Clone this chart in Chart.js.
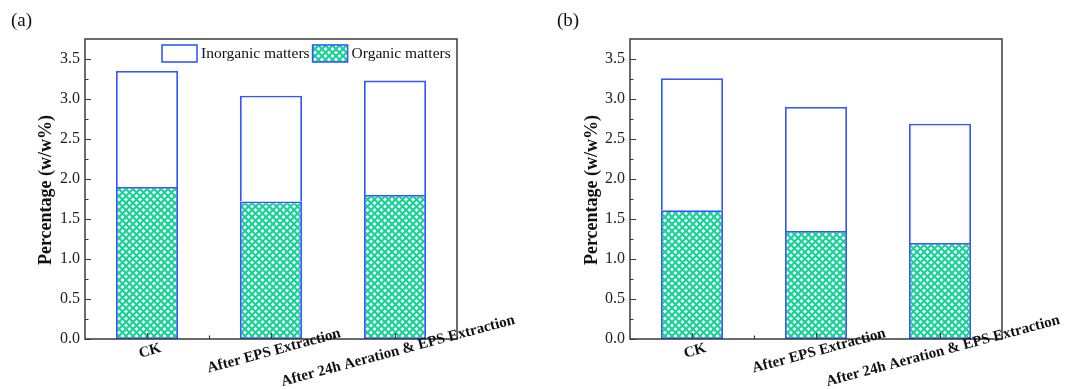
<!DOCTYPE html>
<html>
<head>
<meta charset="utf-8">
<script src="https://cdn.jsdelivr.net/npm/chart.js@4.4.1/dist/chart.umd.min.js"></script>
<style>
  html, body { margin: 0; padding: 0; background: #fff; }
  .wrap { position: absolute; top: 0; height: 389px; }
  #wrapA { left: 0; width: 532px; }
  #wrapB { left: 532px; width: 533px; }
</style>
</head>
<body>
<div class="wrap" id="wrapA"><canvas id="chartA"></canvas></div>
<div class="wrap" id="wrapB"><canvas id="chartB"></canvas></div>
<script>
const categories = ["CK", "After EPS Extraction", "After 24h Aeration & EPS Extraction"];
const yTicks = [0, 0.5, 1.0, 1.5, 2.0, 2.5, 3.0, 3.5];

// panel (a)
const organicA = [1.90, 1.72, 1.80];
const inorganicA = [1.45, 1.32, 1.43];
// panel (b)
const organicB = [1.61, 1.35, 1.20];
const inorganicB = [1.65, 1.55, 1.49];

const SERIF = "'Liberation Serif', 'Times New Roman', serif";
const BLUE = "#3458ff";
const GREEN = "#14d494";
const FRAME = "#3a3a3a";

function makeHatch() {
  const n = 7;
  const c = document.createElement("canvas");
  c.width = n;
  c.height = n;
  const g = c.getContext("2d");
  g.fillStyle = "#fff";
  g.fillRect(0, 0, n, n);
  g.strokeStyle = GREEN;
  g.lineWidth = 2.1;
  for (let k = -1; k <= 1; k++) {
    g.beginPath();
    g.moveTo(k * n, 0);
    g.lineTo(k * n + n, n);
    g.moveTo(k * n, n);
    g.lineTo(k * n + n, 0);
    g.stroke();
  }
  return g.createPattern(c, "repeat");
}
const hatch = makeHatch();

// frame, inward ticks, rotated category labels, y title, panel tag, legend
const decorations = {
  id: "decorations",
  afterDraw(chart, args, opts) {
    const ctx = chart.ctx;
    const a = chart.chartArea;
    const x = chart.scales.x;
    const y = chart.scales.y;
    ctx.save();

    // ticks
    ctx.strokeStyle = FRAME;
    ctx.lineWidth = 1.2;
    ctx.beginPath();
    yTicks.forEach(v => {
      const py = Math.round(y.getPixelForValue(v)) + 0.5;
      ctx.moveTo(a.left, py);
      ctx.lineTo(a.left + 6, py);
      const pm = Math.round(y.getPixelForValue(v + 0.25)) + 0.5;
      if (v + 0.25 < 3.75) {
        ctx.moveTo(a.left, pm);
        ctx.lineTo(a.left + 3.5, pm);
      }
    });
    categories.forEach((c, i) => {
      const px = Math.round(x.getPixelForValue(i)) + 0.5;
      ctx.moveTo(px, a.bottom);
      ctx.lineTo(px, a.bottom - 6);
      if (i > 0) {
        const pm = Math.round((x.getPixelForValue(i) + x.getPixelForValue(i - 1)) / 2) + 0.5;
        ctx.moveTo(pm, a.bottom);
        ctx.lineTo(pm, a.bottom - 3.5);
      }
    });
    ctx.stroke();

    // frame
    ctx.lineWidth = 1.5;
    ctx.strokeRect(a.left, a.top, a.right - a.left, a.bottom - a.top);

    // category labels
    ctx.fillStyle = "#111";
    ctx.font = "bold 15px " + SERIF;
    ctx.textAlign = "center";
    ctx.textBaseline = "middle";
    categories.forEach((c, i) => {
      ctx.save();
      ctx.translate(x.getPixelForValue(i) + 3, a.bottom + 12);
      ctx.rotate(-15 * Math.PI / 180);
      ctx.fillText(c, 0, 0);
      ctx.restore();
    });

    // y title
    ctx.save();
    ctx.translate(opts.titleX, (a.top + a.bottom) / 2 + 1);
    ctx.rotate(-Math.PI / 2);
    ctx.font = "bold 18px " + SERIF;
    ctx.fillText("Percentage (w/w%)", 0, 0);
    ctx.restore();

    // panel tag
    ctx.font = "19px " + SERIF;
    ctx.textAlign = "left";
    ctx.fillText(opts.tag, opts.tagX, 21);

    // legend
    if (opts.legend) {
      const ds = chart.data.datasets;
      const items = [ds[1], ds[0]];
      let lx = 162;
      const ly = a.top + 6;
      ctx.font = "15.5px " + SERIF;
      items.forEach(d => {
        ctx.fillStyle = d.backgroundColor;
        ctx.fillRect(lx, ly, 35, 17);
        ctx.strokeStyle = d.borderColor;
        ctx.lineWidth = 1.6;
        ctx.strokeRect(lx, ly, 35, 17);
        ctx.fillStyle = "#111";
        ctx.fillText(d.label, lx + 39, ly + 9);
        lx += 39 + ctx.measureText(d.label).width + 3;
      });
    }
    ctx.restore();
  }
};

function buildChart(id, organic, inorganic, padL, padR, deco) {
  return new Chart(document.getElementById(id), {
    type: "bar",
    data: {
      labels: categories,
      datasets: [
        {
          label: "Organic matters",
          data: organic,
          backgroundColor: hatch,
          borderColor: BLUE,
          borderWidth: 1.8,
          borderSkipped: false
        },
        {
          label: "Inorganic matters",
          data: inorganic,
          backgroundColor: "#ffffff",
          borderColor: BLUE,
          borderWidth: 1.8,
          borderSkipped: "start"
        }
      ]
    },
    options: {
      responsive: true,
      maintainAspectRatio: false,
      animation: false,
      layout: { padding: { left: padL, right: padR, top: 39, bottom: 50 } },
      datasets: { bar: { barPercentage: 0.5, categoryPercentage: 1 } },
      plugins: {
        legend: { display: false },
        tooltip: { enabled: false },
        decorations: deco
      },
      scales: {
        x: {
          stacked: true,
          grid: { display: false },
          border: { display: false },
          ticks: { display: false },
          afterFit(s) { s.height = 0; }
        },
        y: {
          stacked: true,
          min: 0,
          max: 3.75,
          grid: { display: false, drawTicks: false },
          border: { display: false },
          afterBuildTicks(s) { s.ticks = yTicks.map(v => ({ value: v })); },
          afterFit(s) { s.width = 85; },
          ticks: {
            padding: 5,
            color: "#222",
            font: { family: SERIF, size: 16 },
            callback: v => v.toFixed(1)
          }
        }
      }
    },
    plugins: [decorations]
  });
}

buildChart("chartA", organicA, inorganicA, 0, 75, { tag: "(a)", tagX: 11, titleX: 46, legend: true });
buildChart("chartB", organicB, inorganicB, 13, 63, { tag: "(b)", tagX: 25, titleX: 60, legend: false });
</script>
</body>
</html>
